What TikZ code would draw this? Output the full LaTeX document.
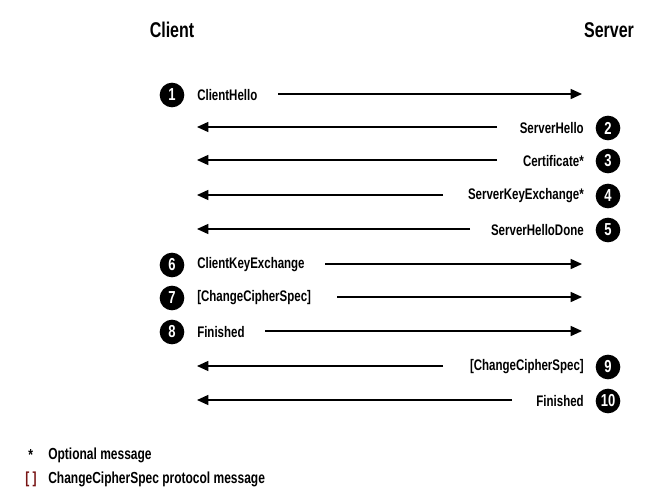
\documentclass[tikz,border=0pt]{standalone}
\usepackage{fontspec}
\setmainfont{Liberation Sans}[FakeStretch=0.75]
\usetikzlibrary{arrows.meta}
\definecolor{brk}{RGB}{120,20,20}
\tikzset{
  num/.style={circle,fill=black,text=white,inner sep=0pt,minimum size=18.5pt,font=\bfseries\fontsize{13}{13}\selectfont},
  msg/.style={inner sep=0pt,font=\bfseries\fontsize{11.5}{13}\selectfont},
  title/.style={inner sep=0pt,font=\bfseries\fontsize{16}{18}\selectfont},
  legend/.style={inner sep=0pt,anchor=west,font=\bfseries\fontsize{12}{14}\selectfont},
  flow/.style={line width=1.1pt,-{Triangle[length=8.5pt,width=7.5pt]}}
}
\begin{document}
\begin{tikzpicture}[x=0.75pt,y=-0.75pt]
\useasboundingbox (0,0) rectangle (659,500);
\node[title] (client) at (172,30) {Client};
\node[title] (server) at (609,30) {Server};
% 1
\node[num] (n1) at (172,95) {1};
\node[msg,anchor=west] (m1) at (197,95) {ClientHello};
\coordinate (e1) at (582,94);
\draw[flow] (278,94) -- (e1);
% 2
\node[num] (n2) at (608,128) {2};
\node[msg,anchor=east] (m2) at (584,128) {ServerHello};
\coordinate (e2) at (197,127);
\draw[flow] (497,127) -- (e2);
% 3
\node[num] (n3) at (608,161) {3};
\node[msg,anchor=east] (m3) at (584,161) {Certificate*};
\coordinate (e3) at (197,160);
\draw[flow] (497,160) -- (e3);
% 4
\node[num] (n4) at (608,196) {4};
\node[msg,anchor=east] (m4) at (584,196) {ServerKeyExchange*};
\coordinate (e4) at (197,195);
\draw[flow] (443,195) -- (e4);
% 5
\node[num] (n5) at (608,230) {5};
\node[msg,anchor=east] (m5) at (584,230) {ServerHelloDone};
\coordinate (e5) at (197,229);
\draw[flow] (470,229) -- (e5);
% 6
\node[num] (n6) at (172,265) {6};
\node[msg,anchor=west] (m6) at (197,265) {ClientKeyExchange};
\coordinate (e6) at (582,264);
\draw[flow] (325,264) -- (e6);
% 7
\node[num] (n7) at (172,298) {7};
\node[msg,anchor=west] (m7) at (197,298) {[ChangeCipherSpec]};
\coordinate (e7) at (582,297);
\draw[flow] (337,297) -- (e7);
% 8
\node[num] (n8) at (172,332) {8};
\node[msg,anchor=west] (m8) at (197,332) {Finished};
\coordinate (e8) at (582,331);
\draw[flow] (265,331) -- (e8);
% 9
\node[num] (n9) at (608,367) {9};
\node[msg,anchor=east] (m9) at (584,367) {[ChangeCipherSpec]};
\coordinate (e9) at (197,366);
\draw[flow] (443,366) -- (e9);
% 10
\node[num] (n10) at (608,401) {10};
\node[msg,anchor=east] (m10) at (584,401) {Finished};
\coordinate (e10) at (197,400);
\draw[flow] (512,400) -- (e10);
% legend
\node[legend] (s1) at (28,455) {*};
\node[legend] (l1) at (48,455) {Optional message};
\node[legend,text=brk] (s2) at (25,479) {[\hspace{2.5pt}]};
\node[legend] (l2) at (48,479) {ChangeCipherSpec protocol message};
\end{tikzpicture}
\end{document}
